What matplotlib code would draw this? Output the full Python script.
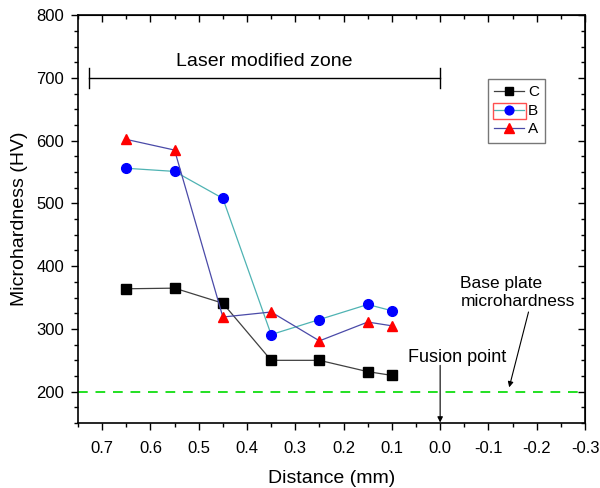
import numpy as np
import matplotlib
matplotlib.use("Agg")
from matplotlib import pyplot as plt
from matplotlib.ticker import MultipleLocator
from matplotlib.patches import Rectangle

plt.rcParams['font.family'] = ['Liberation Sans', 'DejaVu Sans']

distance = [0.65, 0.55, 0.45, 0.35, 0.25, 0.15, 0.1]
hv_c = [364, 365, 341, 250, 250, 232, 226]
hv_b = [556, 551, 508, 291, 315, 339, 329]
hv_a = [602, 585, 319, 327, 281, 311, 305]
base_hv = 200
zone_start = 0.727
zone_end = 0.0
xticks = [0.7, 0.6, 0.5, 0.4, 0.3, 0.2, 0.1, 0.0, -0.1, -0.2, -0.3]

fig = plt.figure(figsize=(6, 4.88), dpi=100)
ax = fig.add_axes([0.13, 0.133, 0.845, 0.836])

ax.plot(distance, hv_c, color='#404040', lw=0.9, marker='s', ms=6.5,
        mfc='black', mec='black', label='C', zorder=3)
ax.plot(distance, hv_b, color='#4fb3b3', lw=0.9, marker='o', ms=7,
        mfc='blue', mec='blue', label='B', zorder=3)
ax.plot(distance, hv_a, color='#4a4aa8', lw=0.9, marker='^', ms=7.5,
        mfc='red', mec='red', label='A', zorder=3)

ax.axhline(base_hv, color='#22e022', lw=1.4, ls=(0, (5, 4)), zorder=2)

# laser modified zone bar
ax.plot([zone_start, zone_end], [700, 700], color='black', lw=1)
ax.plot([zone_start, zone_start], [684, 716], color='black', lw=1)
ax.plot([zone_end, zone_end], [684, 716], color='black', lw=1)
ax.text(0.365, 726, 'Laser modified zone', ha='center', va='center', fontsize=14)

ax.text(-0.035, 254, 'Fusion point', ha='center', va='center', fontsize=13)
ax.annotate('', xy=(0.0, 151), xytext=(0.0, 242),
            arrowprops=dict(arrowstyle='-|>', color='black', lw=0.8,
                            mutation_scale=8, shrinkA=0, shrinkB=0))
ax.text(-0.042, 358, 'Base plate\nmicrohardness', ha='left', va='center',
        fontsize=12.5, linespacing=1.2)
ax.annotate('', xy=(-0.143, 207), xytext=(-0.183, 327),
            arrowprops=dict(arrowstyle='-|>', color='black', lw=0.8,
                            mutation_scale=8, shrinkA=0, shrinkB=0))

ax.set_xlim(0.75, -0.3)
ax.set_ylim(150, 800)
ax.set_xticks(xticks)
ax.set_xticklabels([f'{v:.1f}' for v in xticks])
ax.xaxis.set_minor_locator(MultipleLocator(0.05))
ax.yaxis.set_major_locator(MultipleLocator(100))
ax.yaxis.set_minor_locator(MultipleLocator(25))
ax.tick_params(which='both', direction='out', top=False, right=False, labelsize=12)
ax.tick_params(which='major', length=5, width=1)
ax.tick_params(which='minor', length=3, width=1)
ax.tick_params(axis='x', which='major', pad=8)
ax.tick_params(axis='y', which='major', pad=5)
sx = ax.secondary_xaxis('top')
sx.set_xticks(xticks)
sx.xaxis.set_minor_locator(MultipleLocator(0.05))
sx.tick_params(which='both', direction='in', labeltop=False, width=1)
sx.tick_params(which='major', length=5)
sx.tick_params(which='minor', length=3)
sy = ax.secondary_yaxis('right')
sy.yaxis.set_major_locator(MultipleLocator(100))
sy.yaxis.set_minor_locator(MultipleLocator(25))
sy.tick_params(which='both', direction='in', labelright=False, width=1)
sy.tick_params(which='major', length=5)
sy.tick_params(which='minor', length=3)
for s in ax.spines.values():
    s.set_linewidth(1.2)

ax.set_xlabel('Distance (mm)', fontsize=14, labelpad=10)
ax.set_ylabel('Microhardness (HV)', fontsize=14, labelpad=6)

leg = ax.legend(loc='upper left', bbox_to_anchor=(0.808, 0.843), fontsize=11,
                frameon=True, fancybox=False, edgecolor='#555555',
                markerscale=0.9, handlelength=2.0, handletextpad=0.25,
                borderpad=0.4, labelspacing=0.3, borderaxespad=0)
leg.get_frame().set_linewidth(1)

fig.canvas.draw()
# red box around the B legend handle
r = fig.canvas.get_renderer()
lb = leg.get_window_extent(r)
tb = leg.get_texts()[1].get_window_extent(r)
inv = fig.transFigure.inverted()
yc = (tb.y0 + tb.y1) / 2
(x0, y0), (x1, y1) = inv.transform([[lb.x0 + 5, yc - 8], [tb.x0 - 2, yc + 8]])
fig.patches.append(Rectangle((x0, y0), x1 - x0, y1 - y0, fill=False,
                             edgecolor='#ff5050', lw=1, transform=fig.transFigure))

fig.savefig('out.png', dpi=100)
